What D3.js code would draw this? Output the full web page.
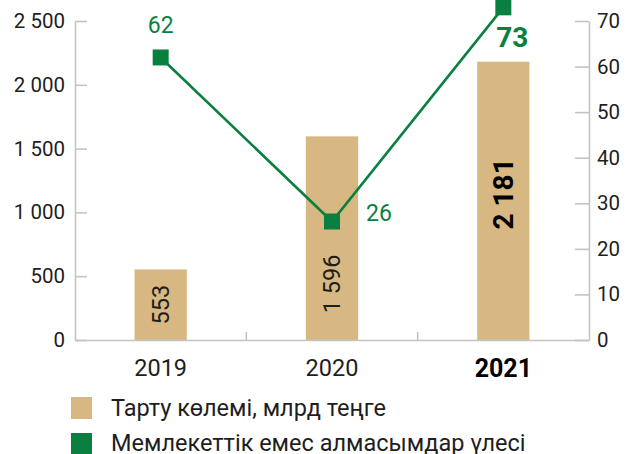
<!DOCTYPE html>
<html>
<head>
<meta charset="utf-8">
<script src="https://cdn.jsdelivr.net/npm/d3@7"></script>
<style>
  html, body { margin: 0; padding: 0; background: #fff; }
  svg { display: block; font-family: Roboto, "Noto Sans", sans-serif; }
</style>
</head>
<body>
<svg id="chart" width="626" height="454"></svg>
<script>
// Data
const years = ["2019", "2020", "2021"];
const volume = [553, 1596, 2181];          // млрд теңге
const share = [62, 26, 73];                // %
const volumeTicks = [0, 500, 1000, 1500, 2000, 2500];
const shareTicks = [0, 10, 20, 30, 40, 50, 60, 70];
const highlightYear = "2021";
const legendLabels = ["Тарту көлемі, млрд теңге", "Мемлекеттік емес алмасымдар үлесі"];

// Styling / layout
const tan = "#d8b882";
const green = "#0a8040";
const axisGrey = "#c4c4c4";
const textColor = "#1e1e1e";
const barLabelPos = [0.5, 0.275, 0.525];   // label centre as a fraction of bar height

const svg = d3.select("#chart");
const plot = { left: 75, right: 589, top: 21, bottom: 340 };

const x = d3.scaleBand().domain(years).range([plot.left, plot.right]).padding(0);
const yL = d3.scaleLinear().domain([0, 2500]).range([plot.bottom, plot.top]);
const yR = d3.scaleLinear().domain([0, 70]).range([plot.bottom, plot.top]);

const loc = d3.formatLocale({ decimal: ",", thousands: " ", grouping: [3], currency: ["", ""] });
const fmt = loc.format(",");

const barW = x.bandwidth() * 0.305;

// Bars
svg.append("g").selectAll("rect")
  .data(years)
  .join("rect")
  .attr("x", (d) => x(d) + x.bandwidth() / 2 - barW / 2)
  .attr("y", (d, i) => yL(volume[i]))
  .attr("width", barW)
  .attr("height", (d, i) => yL(0) - yL(volume[i]))
  .attr("fill", tan);

// Left axis
const gL = svg.append("g")
  .attr("transform", `translate(${plot.left},0)`)
  .call(d3.axisLeft(yL).tickValues(volumeTicks).tickFormat(fmt)
    .tickSizeInner(-12).tickSizeOuter(0).tickPadding(10));
gL.selectAll("path, line").attr("stroke", axisGrey).attr("stroke-width", 1.6);
gL.selectAll("text").attr("font-size", 20.5).attr("fill", textColor).attr("font-family", "Roboto");

// Right axis
const gR = svg.append("g")
  .attr("transform", `translate(${plot.right},0)`)
  .call(d3.axisRight(yR).tickValues(shareTicks)
    .tickSizeInner(-14).tickSizeOuter(0).tickPadding(8));
gR.selectAll("path, line").attr("stroke", axisGrey).attr("stroke-width", 1.6);
gR.selectAll("text").attr("font-size", 20.5).attr("fill", textColor).attr("font-family", "Roboto");

// Bottom axis
const gB = svg.append("g")
  .attr("transform", `translate(0,${plot.bottom})`)
  .call(d3.axisBottom(x).tickSize(0).tickPadding(19).tickSizeOuter(0));
gB.select("path").attr("stroke", axisGrey).attr("stroke-width", 1.6);
gB.selectAll("text")
  .attr("font-size", (d) => d === highlightYear ? 25 : 23.5)
  .attr("font-weight", (d) => d === highlightYear ? 700 : 400)
  .attr("fill", (d) => d === highlightYear ? "#000" : textColor)
  .attr("font-family", "Roboto");

// Dividers between categories
gB.selectAll("line.divider")
  .data(years.slice(1))
  .join("line")
  .attr("class", "divider")
  .attr("x1", (d) => x(d)).attr("x2", (d) => x(d))
  .attr("y1", 0).attr("y2", -8)
  .attr("stroke", axisGrey).attr("stroke-width", 1.6);

// Bar value labels (rotated)
svg.append("g").selectAll("text")
  .data(years)
  .join("text")
  .attr("transform", (d, i) => {
    const cx = x(d) + x.bandwidth() / 2;
    const cy = yL(volume[i] * barLabelPos[i]);
    return `translate(${cx},${cy}) rotate(-90)`;
  })
  .attr("text-anchor", "middle")
  .attr("dy", "0.36em")
  .attr("font-size", (d) => d === highlightYear ? 28 : 23.5)
  .attr("font-weight", (d) => d === highlightYear ? 700 : 400)
  .attr("fill", (d) => d === highlightYear ? "#000" : textColor)
  .text((d, i) => fmt(volume[i]));

// Share line
const pts = years.map((d, i) => [x(d) + x.bandwidth() / 2, yR(share[i])]);
svg.append("path")
  .attr("d", d3.line()(pts))
  .attr("fill", "none")
  .attr("stroke", green)
  .attr("stroke-width", 2.6);

const mk = 16;
svg.append("g").selectAll("rect")
  .data(pts)
  .join("rect")
  .attr("x", (p) => p[0] - mk / 2)
  .attr("y", (p) => p[1] - mk / 2)
  .attr("width", mk)
  .attr("height", mk)
  .attr("fill", green);

// Share labels
const shareLabelOffset = [[0, -24], [34, -1], [9, 40]];
const shareLabelAnchor = ["middle", "start", "middle"];
svg.append("g").selectAll("text")
  .data(years)
  .join("text")
  .attr("x", (d, i) => pts[i][0] + shareLabelOffset[i][0])
  .attr("y", (d, i) => pts[i][1] + shareLabelOffset[i][1])
  .attr("text-anchor", (d, i) => shareLabelAnchor[i])
  .attr("font-size", (d) => d === highlightYear ? 28 : 23)
  .attr("font-weight", (d) => d === highlightYear ? 700 : 400)
  .attr("fill", green)
  .text((d, i) => share[i]);

// Legend
const legendColors = [tan, green];
const lg = svg.append("g");
lg.selectAll("rect")
  .data(legendLabels)
  .join("rect")
  .attr("x", 71)
  .attr("y", (d, i) => 397 + i * 36)
  .attr("width", 21)
  .attr("height", 22)
  .attr("fill", (d, i) => legendColors[i]);
lg.selectAll("text")
  .data(legendLabels)
  .join("text")
  .attr("x", 111)
  .attr("y", (d, i) => 416 + i * 35)
  .attr("font-size", 23.5)
  .attr("fill", textColor)
  .text((d) => d);
</script>
</body>
</html>
